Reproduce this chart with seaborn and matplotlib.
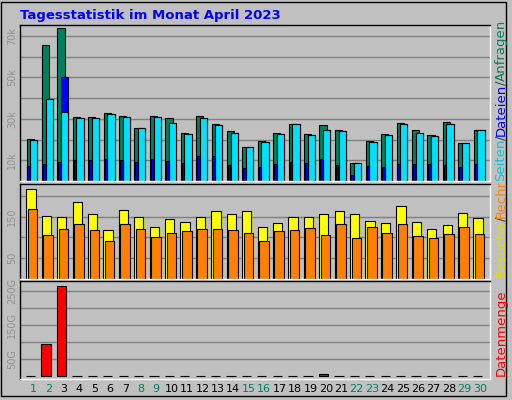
import matplotlib
matplotlib.use("Agg")
import matplotlib.pyplot as plt
import matplotlib.transforms as mtrans
import seaborn as sns
import numpy as np
import pandas as pd

days = list(range(1, 31))
anfragen = [20.5,65.5,73.7,31,31,32.6,31.6,25.8,31.6,30.2,23.4,31.6,27.3,23.9,16.6,19.5,23.4,27.3,22.9,26.8,24.8,8.5,19.5,22.9,28.2,24.4,22.4,28.7,18.5,24.8]
dateien = [20,39.8,50,30.6,30.6,32.1,31.1,25.8,31.1,28.2,22.9,30.6,26.8,23.4,16.6,19,22.9,27.3,22.4,24.4,23.9,8.5,19,22.4,27.3,23.4,21.9,27.3,18.5,24.4]
seiten = [20,39.4,33.5,30.6,30.6,32.1,31.1,25.8,31.1,28.2,22.9,30.6,26.8,23.4,16.6,19,22.9,27.3,22.4,24.4,23.9,8.5,19,22.4,27.3,23.4,21.9,27.3,18.5,24.4]
schmal = [7,8,9,10,10,10.5,10,9,10.5,9.5,8.5,12,12,7.6,6.1,6.6,8,9,8.5,10.5,7.6,2.7,7,6.6,8,8,8,7.6,6.6,8]
besuche = [215,152,149,184,155,117,166,149,125,144,137,149,164,157,164,125,134,149,149,155,164,155,139,134,176,137,120,129,159,147]
rechner = [169,105,120,131,117,91,133,120,101,110,115,120,120,117,110,91,115,117,122,105,133,98,125,110,133,103,98,108,125,108]
datenmenge = [2,94,265,2,2,2,2,2,2,2,2,2,2,2,2,2,2,2,2,6,2,2,2,2,2,2,2,2,2,2]
weekend = {1,2,8,9,15,16,22,23,29,30}

sns.set_style("white")
bg = "#C0C0C0"
fig = plt.figure(figsize=(5.12, 4.0), dpi=100, facecolor=bg)
W, H = 512, 400
def mkax(y0, y1):
    ax = fig.add_axes([20/W, 1 - y1/H, 470/W, (y1-y0)/H])
    ax.set_facecolor(bg)
    for s in ["left", "top"]:
        ax.spines[s].set_color("black")
    for s in ["right", "bottom"]:
        ax.spines[s].set_color("white")
    for s in ax.spines.values():
        s.set_linewidth(1)
    ax.set_axisbelow(True)
    return ax

def bars(ax, vals, off, width, color):
    d = pd.DataFrame({"x": np.array(days) + off, "y": vals})
    sns.barplot(data=d, x="x", y="y", native_scale=True, width=width,
                color=color, edgecolor="black", linewidth=0.8, saturation=1, ax=ax)

ax1 = mkax(25, 181)
ax2 = mkax(184, 279)
ax3 = mkax(281, 379)

bars(ax1, anfragen, -0.18, 0.47, "#008060")
bars(ax1, dateien, 0.06, 0.47, "#0000FF")
bars(ax1, seiten, 0.06, 0.47, "#00E0FF")
bars(ax1, schmal, -0.27, 0.17, "#0000FF")
ax1.set_ylim(0, 75.3)
ax1.set_yticks([10,20,30,40,50,60,70])
ax1.set_yticklabels(["10k","","30k","","50k","","70k"])

bars(ax2, besuche, -0.13, 0.6, "#FFFF00")
bars(ax2, rechner, -0.02, 0.62, "#FF8000")
ax2.set_ylim(0, 228)
ax2.set_yticks([50,100,150,200])
ax2.set_yticklabels(["50","","150",""])

bars(ax3, datenmenge, -0.15, 0.6, "#FF0000")
ax3.set_ylim(-8, 280)
ax3.set_yticks([50,100,150,200,250])
ax3.set_yticklabels(["50G","","150G","","250G"])

for ax in (ax1, ax2, ax3):
    ax.grid(axis="y", color="#808080", linewidth=1)
    ax.set_xlabel(""); ax.set_ylabel("")
    ax.tick_params(axis="y", length=0, labelsize=7, labelcolor="#909090", pad=2)
    for t in ax.get_yticklabels():
        t.set_rotation(90); t.set_va("center")
    ax.set_xticks(days)
    ax.set_xlim(0.16, 30.65)
    ax.tick_params(axis="x", length=0)
for ax in (ax1, ax2):
    ax.set_xticklabels([])
ax3.set_xticklabels([str(d) for d in days], fontsize=8)
for t, d in zip(ax3.get_xticklabels(), days):
    t.set_color("#008060" if d in weekend else "black")

fig.text(20/W, 1 - 15/H, "Tagesstatistik im Monat April 2023", color="#0000FF",
         fontsize=9.5, fontweight="bold", va="center")

fig.canvas.draw()
renderer = fig.canvas.get_renderer()

def vlabel(x, ybottom, parts, clip_top=None, fs=9.5):
    y = ybottom
    for txt, col in parts:
        t = fig.text(x/W, 1 - y/H, txt, color=col, rotation=90, fontsize=fs,
                     ha="center", va="bottom")
        bb = t.get_window_extent(renderer)
        if clip_top is not None:
            box = mtrans.Bbox.from_extents(0, 0, W, H - clip_top)
            t.set_clip_box(mtrans.TransformedBbox(box, mtrans.IdentityTransform()))
            t.set_clip_on(True)
        y -= bb.height - 1

vlabel(501, 181, [("Seiten", "#00C8E0"), ("/", "#404040"), ("Dateien", "#0000FF"),
                  ("/", "#404040"), ("Anfragen", "#008060")])
vlabel(501, 277, [("Besuche", "#E0E000"), ("/", "#404040"), ("Rechner", "#FF8000")],
       clip_top=183)
vlabel(501, 376, [("Datenmenge", "#FF0000")])

fig.add_artist(plt.Rectangle((1/W, 4/H), 505/W, 394/H, transform=fig.transFigure,
                             fill=False, edgecolor="black", linewidth=1))
fig.savefig("out.png", dpi=100, facecolor=bg)
